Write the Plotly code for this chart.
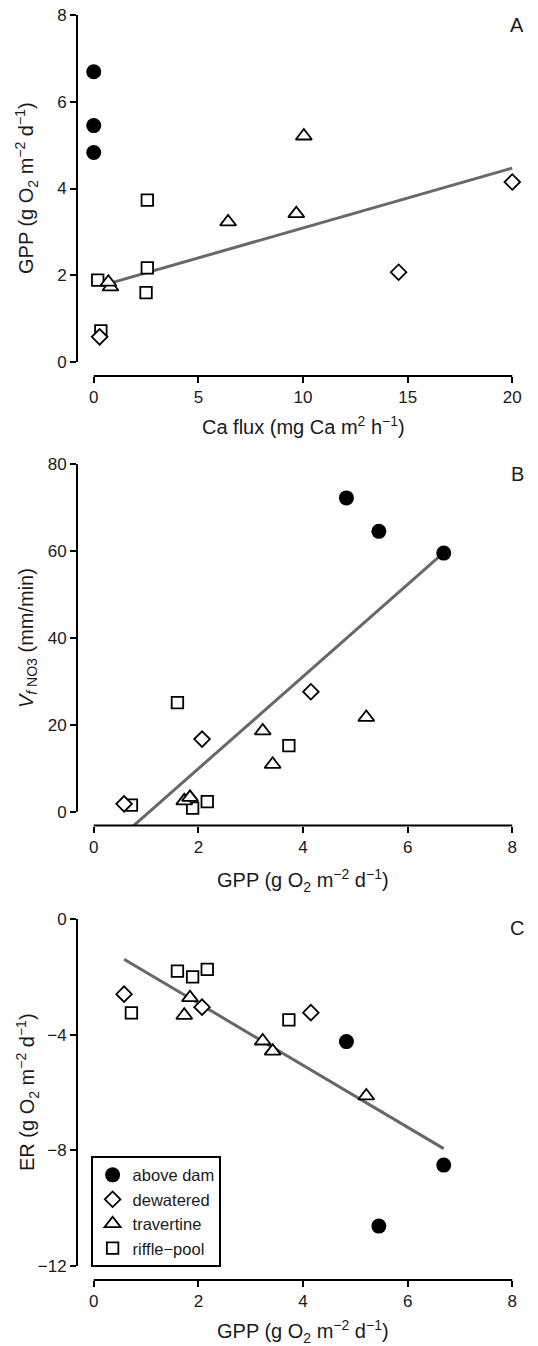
import plotly.graph_objects as go

# ---------------- data ----------------
groups = ["above dam", "dewatered", "travertine", "riffle\u2212pool"]

# GPP (g O2 m-2 d-1)
gpp_above = [4.83, 5.45, 6.69]
gpp_dewatered = [0.58, 2.07, 4.15]
gpp_travertine = [1.73, 1.84, 3.23, 3.42, 5.21]
gpp_riffle = [0.72, 1.60, 1.89, 2.17, 3.73]

# Ca flux (mg Ca m2 h-1)
ca_above = [0.0, 0.0, 0.0]
ca_dewatered = [0.28, 14.57, 20.0]
ca_travertine = [0.80, 0.70, 6.42, 9.68, 10.04]
ca_riffle = [0.34, 2.50, 0.19, 2.56, 2.56]

# Vf NO3 (mm/min)
vf_above = [72.2, 64.5, 59.5]
vf_dewatered = [1.8, 16.7, 27.6]
vf_travertine = [2.5, 3.3, 18.6, 10.9, 21.7]
vf_riffle = [1.5, 25.1, 0.8, 2.3, 15.2]

# ER (g O2 m-2 d-1)
er_above = [-4.24, -10.62, -8.51]
er_dewatered = [-2.60, -3.05, -3.24]
er_travertine = [-3.33, -2.72, -4.22, -4.57, -6.12]
er_riffle = [-3.25, -1.80, -2.00, -1.74, -3.49]

# regression lines (slope, intercept, x-extent)
fitA_slope, fitA_int, fitA_x = 0.138, 1.71, [0.87, 20.0]
fitB_slope, fitB_int, fitB_x = 10.6, -11.3, [0.58, 6.69]
fitC_slope, fitC_int, fitC_x = -1.072, -0.77, [0.58, 6.69]

# axis ticks
xticksA = [0, 5, 10, 15, 20]
yticksA = [0, 2, 4, 6, 8]
xticksB = [0, 2, 4, 6, 8]
yticksB = [0, 20, 40, 60, 80]
xticksC = [0, 2, 4, 6, 8]
yticksC = [0, -4, -8, -12]

# ---------------- styling / layout helpers ----------------
W, H = 538, 1346
ML, MR, MB = 77, 9, 66
PW, PH = W - ML - MR, H - MB
FONT = "Liberation Sans, Arial, Helvetica, sans-serif"
INK = "#1a1a1a"


def pyp(p):
    return (PH - p) / PH


def pxp(p):
    return (p - ML) / PW


styles = {
    "above dam": dict(symbol="circle", size=15, color="black",
                      line=dict(color="black", width=0)),
    "dewatered": dict(symbol="diamond", size=12, color="white",
                      line=dict(color="black", width=1.8)),
    "travertine": dict(symbol="triangle-up", size=14, color="white",
                       line=dict(color="black", width=1.8)),
    "riffle\u2212pool": dict(symbol="square", size=11.5, color="white",
                             line=dict(color="black", width=1.8)),
}
rank = {"above dam": 1, "dewatered": 2, "travertine": 3, "riffle\u2212pool": 4}

panels = [
    (dict(zip(groups, [ca_above, ca_dewatered, ca_travertine, ca_riffle])),
     dict(zip(groups, [gpp_above, gpp_dewatered, gpp_travertine, gpp_riffle])),
     (fitA_slope, fitA_int, fitA_x), xticksA, yticksA, ""),
    (dict(zip(groups, [gpp_above, gpp_dewatered, gpp_travertine, gpp_riffle])),
     dict(zip(groups, [vf_above, vf_dewatered, vf_travertine, vf_riffle])),
     (fitB_slope, fitB_int, fitB_x), xticksB, yticksB, "2"),
    (dict(zip(groups, [gpp_above, gpp_dewatered, gpp_travertine, gpp_riffle])),
     dict(zip(groups, [er_above, er_dewatered, er_travertine, er_riffle])),
     (fitC_slope, fitC_int, fitC_x), xticksC, yticksC, "3"),
]

fig = go.Figure()
draw_order = ["riffle\u2212pool", "travertine", "dewatered", "above dam"]
for i, (xd, yd, fit, xt, yt, sfx) in enumerate(panels):
    xa, ya = "x" + sfx, "y" + sfx
    s, b, fx = fit
    fig.add_trace(go.Scatter(x=fx, y=[b + s * v for v in fx], mode="lines",
                             line=dict(color="#686868", width=3),
                             xaxis=xa, yaxis=ya, showlegend=False,
                             hoverinfo="skip"))
    for g in draw_order:
        st = styles[g]
        fig.add_trace(go.Scatter(
            x=xd[g], y=yd[g], mode="markers", name=g,
            marker=dict(symbol=st["symbol"], size=st["size"], color=st["color"],
                        line=st["line"]),
            xaxis=xa, yaxis=ya, showlegend=(i == 2), legendrank=rank[g],
            cliponaxis=False))

# vertical pixel extents of the three plot regions (page pixels)
geom = {"": (1.1, 375.9), "2": (450.1, 825.6), "3": (905.1, 1279.9)}

axcommon = dict(showgrid=False, zeroline=False, showline=False, ticks="outside",
                ticklen=6, tickwidth=2, tickcolor="black",
                tickfont=dict(family=FONT, size=17, color=INK))

shapes = []
for (xd, yd, fit, xt, yt, sfx) in panels:
    top, bot = geom[sfx]
    xlo, xhi = min(xt), max(xt)
    xpad = 0.04 * (xhi - xlo)
    ylo, yhi = min(yt), max(yt)
    ypad = 0.04 * (yhi - ylo)
    anchor_y = "y" + sfx
    anchor_x = "x" + sfx
    fig.update_layout({
        "xaxis" + sfx: dict(axcommon, domain=[0, 1], range=[xlo - xpad, xhi + xpad],
                            tickvals=xt, anchor=anchor_y),
        "yaxis" + sfx: dict(axcommon, domain=[pyp(bot), pyp(top)],
                            range=[ylo - ypad, yhi + ypad], tickvals=yt,
                            anchor=anchor_x, tickangle=0),
    })
    # R-style axis lines spanning first..last tick
    shapes.append(dict(type="line", xref=anchor_x, yref=anchor_y + " domain",
                       x0=xlo, x1=xhi, y0=0, y1=0,
                       line=dict(color="black", width=2)))
    shapes.append(dict(type="line", xref=anchor_x + " domain", yref=anchor_y,
                       x0=0, x1=0, y0=ylo, y1=yhi,
                       line=dict(color="black", width=2)))

gpp_lab = "GPP (g O<sub>2</sub> m<sup>\u22122</sup> d<sup>\u22121</sup>)"
annotations = []


def ann(text, xpx, ypx, size, angle=0):
    annotations.append(dict(text=text, x=pxp(xpx), y=pyp(ypx), xref="paper",
                            yref="paper", showarrow=False, textangle=angle,
                            xanchor="center", yanchor="middle",
                            font=dict(family=FONT, size=size, color=INK)))


ann(gpp_lab, 27, 188, 20, -90)
ann("<i>V</i><sub><i>f</i> NO3</sub> (mm/min)", 27, 638, 20, -90)
ann("ER (g O<sub>2</sub> m<sup>\u22122</sup> d<sup>\u22121</sup>)", 27, 1092, 20, -90)
ann("Ca flux (mg Ca m<sup>2</sup> h<sup>\u22121</sup>)", 303, 426, 20)
ann(gpp_lab, 303, 880, 20)
ann(gpp_lab, 303, 1331, 20)
ann("A", 517, 25, 20)
ann("B", 517, 474, 20)
ann("C", 517, 928, 20)

fig.update_layout(
    width=W, height=H,
    margin=dict(l=ML, r=MR, t=0, b=MB, pad=0),
    paper_bgcolor="white", plot_bgcolor="white",
    shapes=shapes, annotations=annotations,
    showlegend=True,
    legend=dict(x=pxp(91), y=pyp(1156), xanchor="left", yanchor="top",
                bordercolor="black", borderwidth=1.6, bgcolor="white",
                font=dict(family=FONT, size=16.5, color=INK),
                itemwidth=30, tracegroupgap=0, traceorder="normal"),
    font=dict(family=FONT, color=INK),
)

fig.write_html("out.html", include_plotlyjs=True,
               config={"displayModeBar": False},
               post_script="document.body.style.margin='0';document.body.style.overflow='hidden';")
